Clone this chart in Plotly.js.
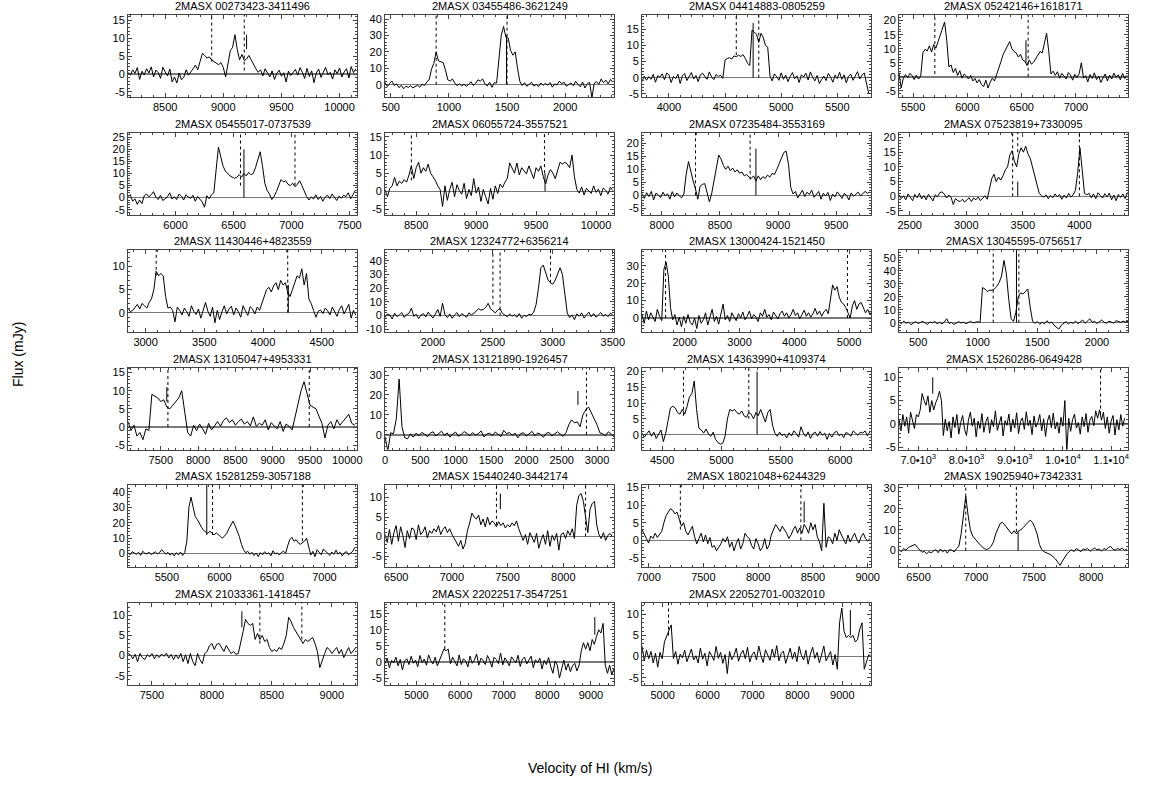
<!DOCTYPE html>
<html>
<head>
<meta charset="utf-8">
<script src="https://cdn.plot.ly/plotly-3.0.1.min.js"></script>
<style>html,body{margin:0;padding:0;background:#fff}#chart{width:1151px;height:797px}</style>
</head>
<body>
<div id="chart"></div>
<script>
const titles = ["2MASX 00273423-3411496","2MASX 03455486-3621249","2MASX 04414883-0805259","2MASX 05242146+1618171",
"2MASX 05455017-0737539","2MASX 06055724-3557521","2MASX 07235484-3553169","2MASX 07523819+7330095",
"2MASX 11430446+4823559","2MASX 12324772+6356214","2MASX 13000424-1521450","2MASX 13045595-0756517",
"2MASX 13105047+4953331","2MASX 13121890-1926457","2MASX 14363990+4109374","2MASX 15260286-0649428",
"2MASX 15281259-3057188","2MASX 15440240-3442174","2MASX 18021048+6244329","2MASX 19025940+7342331",
"2MASX 21033361-1418457","2MASX 22022517-3547251","2MASX 22052701-0032010"];

// spectrum sampling: first channel velocity and channel width (km/s)
const v0s = [8180,450,3760,5370,5590,8240,7830,2405,2850,1600,1220,340,7060,0,4330,6600,5130,6400,6940,6330,7300,4280,4540];
const dvs = [20,20,20,20,20,20,20,20,20,20,40,20,40,40,20,40,20,20,20,20,20,50,50];

const f01 = [0.5,-0.3,1.2,0.2,1.8,-1.5,0.8,-0.2,1.5,0.3,2,-0.8,1.1,0.4,-1.2,1.9,0.6,-0.5,1.4,-2.2,-0.8,-2.5,0.3,-1.6,-0.9,1.2,-0.3,0.8,1.5,2.5,1.2,
3.5,5.8,5.2,4.5,4.8,3.9,3.5,3.0,2.6,3.2,1.8,
-0.8,3.5,6.5,7.5,11,6.8,4.0,5.5,3.8,4.2,5.2,4.0,2.5,1.5,0.5,
1.2,-0.5,1.5,0.3,-0.8,0.9,-1.5,0.2,1.1,-0.6,0.4,-2.2,0.8,-0.4,0.6,1.3,-0.3,1.8,0.5,-1.2,1.6,-0.7,0.9,-2.4,0.3,1.4,-0.9,0.7,1.9,-0.2,0.5,-1.4,1.2,0.1,1.7,-0.8,0.6,1.5,-1.1,2.1,0.4,1.5];
const f02 = [1.5,-1.2,0.8,2.2,-0.5,0.6,-1.8,-0.4,-2.5,-0.9,-1.6,-0.7,-1.9,-1.2,-0.3,-1.5,0.4,-0.6,1.8,
3,9.5,13,20,14.5,14,13.5,9,3,
2.2,3.5,1.0,-0.6,0.5,-0.8,0.3,-1.0,0.2,1.8,-0.5,0.9,3.0,2.2,3.5,0.4,-0.7,1.5,-1.6,1.2,
1,15,30,35.5,29,28.5,21,18,20,10,2,
-0.5,1.2,-1.0,0.3,1.5,-0.8,0.2,-1.2,1.0,-0.4,0.8,-0.3,1.3,-1.5,0.5,-0.2,2.2,0.6,1.5,-0.9,0.4,1.1,-0.6,2.0,0.3,-1.3,1.6,-2.0,0.7,1.4,-8,0.9,1.8,0.2,3.5,1.2,2.8,0.5,3.2,1.5];
const f03 = [-1.2,0.5,-0.8,0.3,-0.5,1.0,-1.4,0.6,0.2,1.2,-0.6,1.5,0.8,-1.5,0.4,-0.3,1.1,-1.8,0.6,1.3,-0.9,0.2,1.6,-0.4,0.7,-1.2,0.9,1.4,0.3,-0.5,1.8,0.2,-0.6,1.0,0.4,0.8,-0.2,
5.5,6.0,6.2,5.8,6.8,6.5,7.0,6.6,7.2,6.0,4.5,3.8,14.8,14.2,13.5,11.0,13.8,12.5,10.0,9.5,0.5,
-1.0,1.2,0.3,-0.8,1.5,-0.5,0.8,-1.2,0.4,1.6,-0.3,0.6,-1.5,0.9,0.2,1.4,-0.7,1.8,0.1,-1.0,0.7,-1.8,-0.6,0.5,-0.9,1.3,0.2,-1.4,0.8,-0.3,1.7,-0.5,0.9,-1.6,0.4,1.1,-0.8,0.6,1.9,-0.4,0.8,1.5,-2.0,-5.0];
const f04 = [1.5,-4,-0.5,0.8,-0.3,1.2,0.5,-1.0,0.6,-0.8,0.3,
8.5,9.8,9.2,11,8.8,11.5,10.2,12.5,15,17,19.5,13,
3.5,4.2,1.5,3.0,0.5,2.2,-0.5,1.0,0.3,-0.8,0.5,-1.5,-0.6,-2.2,-1.0,-2.8,-3.5,-1.2,-4.0,-2.0,-0.5,-1.5,0.8,
2.5,5.5,8.0,9.5,10.5,12.5,10.0,9.0,8.5,7.0,8.0,6.0,5.5,4.0,6.0,4.5,5.2,6.5,8.0,9.0,8.5,12,15.5,9.0,1.0,
2.0,0.5,1.8,-0.5,1.2,0.3,-0.8,1.5,0.6,-1.2,0.9,-0.3,1.1,5.0,-0.5,0.4,-1.8,0.8,-0.6,1.4,-1.0,0.2,-2.0,-0.4,1.0,-1.5,0.6,-0.8,1.3,-0.2,0.7,-1.1,1.2,-0.6,0.5];
const f05 = [0.5,1.2,-1.5,-0.5,-2.8,-1.0,-2.5,0.8,1.5,0.3,1.2,2.5,0.2,-0.8,1.0,-1.2,-0.5,0.3,2.0,-0.6,0.4,-0.8,1.5,0.6,-1.0,1.2,0.2,-0.3,1.0,-1.5,0.5,-0.6,-1.8,-4.0,0.8,-0.5,1.2,2.0,
12,21,17,13,11,10,9,8.5,8,8.5,9.5,8.5,10,9,10.5,9.5,10,12.5,16,19,13,6,3,
1.5,-0.8,0.5,2.5,5.5,7.5,6.5,7,5.5,5,6,4.5,5.5,7,5,2.5,0.5,
-1.0,0.3,-0.6,1.2,-0.8,0.5,-1.5,0.2,1.0,-0.4,1.5,0.3,-1.2,0.6,-0.3,1.0,0.4,2.0,-0.5,1.2,3.0];
const f06 = [0.5,-1.5,0.8,1.5,3.8,1.5,2.8,2.2,3.2,2.5,
4.5,7,3.5,6.5,8,5,6.5,5.5,7.5,5,4,3,1.5,0.5,
-4.2,1.5,-2.5,0.5,2.5,-1.5,1.8,0.2,-0.8,2.2,-2,0.5,-1.2,3.5,-0.5,1.2,-2.8,0.5,-1.5,-3.5,0.8,-2.2,1.5,-0.6,2.0,1.0,2.5,
3.5,7.8,6.5,5,7.8,4.5,6.5,5.5,4.8,7,5,3.5,6.5,5.5,7,4,2,4.5,6,5,3.5,6,8,7.5,8,7.5,6.5,10,4,
0.5,-0.5,1.2,-1.0,0.8,0.2,-0.6,1.5,-0.3,0.6,-1.2,0.9,0.3,-0.8,1.1,0.2];
const f07 = [0.5,-1.2,1.0,-0.5,1.5,-1.8,0.8,0.2,-0.9,1.2,-0.3,0.6,-1.5,1.4,-0.6,0.9,-0.2,-1.0,0.5,
8,13,9,5.5,2.5,-1.5,3.5,4.2,4.5,0.5,-2.5,0.8,
6,12,15.5,14,11.5,10,11.2,9.5,10.5,9,9.8,8.5,9,7.5,8,7,6.5,7.5,5.5,7.5,6,7.2,6.5,7.8,7,8.5,8,10,12,14.5,16.5,17,
12,3,0.5,1.5,-1,0.5,2,-0.5,1.2,0.3,2,-0.8,0.6,1.5,-1.5,0.8,-0.3,1.1,-2,0.4,-0.6,1.3,0.2,-1.2,0.7,0,-1.8,0.9,-0.4,0.5,1.2,-0.2,0.6,1.5,0.8,1.2];
const f08 = [0.5,-0.8,0.2,-1.2,0.8,-0.3,-1.5,0.6,-0.5,1.0,-0.9,0.3,-1.2,0.7,-0.4,-1.6,0.5,-0.2,1.2,1.5,0.8,-0.6,0.4,-0.3,-2.8,-0.8,-1.5,-1.8,-1.0,-2.0,-1.2,-0.5,-1.8,-0.6,-1.2,-0.3,-1.5,-0.8,0.2,-1.0,
2.5,6,7.5,5,6.5,5.5,7,9,10,14,15.5,12,10,14.5,16.5,15,17,14.5,13,10,6,3,1,
0.2,-0.3,0.5,-0.8,0.3,-0.5,0.8,-0.2,0.6,-1.0,0.4,-0.6,1.0,-0.3,0.5,2.0,
8,16.5,9,1,
0.5,1.0,-0.5,0.8,-0.8,1.2,0.3,-0.6,0.9,-0.2,1.1,-1.2,0.4,-1.5,0.6,-0.4,0.8,-0.8,1.3];
const f09 = [1,0.2,0.5,1.2,1.8,0.8,2,1.5,1,2.2,
3,5,9,8,8.5,8,
3.5,1,1.2,0.5,-2,1.2,0.5,-0.5,1,0.2,-0.8,1.5,0.3,-0.4,0.8,-1.2,0.6,2.2,0.3,-0.8,1.2,-2.2,0.5,-1.5,0.2,1.5,-0.3,0.8,1.4,-0.5,1.0,0.2,-1.0,1.5,0.4,-0.6,1.3,0.8,-0.3,1.2,0.5,2,
3.5,5,5.5,4.5,5.8,6.5,5,7,6,6.5,4.5,3.5,5,6.5,8,7.5,9.5,6,8.5,3,2,
0.5,-1,0.3,0.6,-0.2,1.0,0.4,-0.5,1.2,0.2,-0.8,0.7,1.5,-0.3,0.8,1.8,-1.2,0.5,-0.6];
const f10 = [-1.5,1.2,0.5,-2.5,1.8,-0.8,0.6,2.2,-1.2,0.8,1.5,5.5,-0.5,1.0,-2.2,0.3,1.5,-1.0,2.5,0.4,-1.8,1.2,4.5,-0.6,9,0.8,-1.5,1.2,-2.0,0.5,2.2,-0.8,1.5,0.2,-1.2,2.0,0.6,1.5,3.5,
5,4,4.5,6,9,5,3.5,2,4,5,1.5,0.5,
-0.8,1.2,-0.5,0.8,-1.2,1.5,-2.0,0.3,-0.8,1.0,0.4,2.5,8,
20,35,37,32,26,24,23,26,31,35,30,14,2,
-1.5,0.5,-3,1.2,-0.5,2.0,-1.8,0.6,2.5,-0.8,1.5,-1.2,0.8,2.2,-0.4,1.0,-0.8,1.8,0.5];
const f11 = [2,-3,4,-1,3,0.5,-2,5,1,-1.5,
28,32,24,6,
-1,2,-4,0.5,-5,1,-3,2,-2.5,-4,0,-6,1.5,-3,-1,3,-4,0.5,5,-2,1,-3.5,2,8,-1,1.5,-2,3,0.5,-1.5,2.5,0,3.5,-1,1,4,-0.5,2,0.5,-2,3,1,5,0.5,2,-1,3.5,1.5,-0.5,2.5,4,1,3,0,2,5,1.5,3,-0.5,2,4.5,1,3,0.5,2.5,5.5,2,4,1,3.5,5,2.5,
10,19,16,18,12,9,8,6,3,0,
7,10,5,8,9,6,3,5,2,4,3.5];
const f12 = [0.5,-0.8,1.2,-0.5,0.3,-1.5,-0.3,0.8,-0.6,0.2,1.0,-0.4,-1.2,0.6,-0.2,0.9,-0.8,0.3,-1.0,0.5,3,-0.6,0.2,-1.4,-0.5,0.8,-0.3,0.4,-0.8,0.2,1.0,-0.2,0.5,0.8,0.2,
27,26,24,25,25,26,28,31,36,48,38,18,3,1,8,20,23,22,24,26,12,
1,-0.5,0.8,-1.2,0.3,-0.8,1.5,-0.3,0.5,-2,-3.5,-5,-2,-0.5,0.8,-1,0.3,-0.6,1.2,-0.8,0.5,2,-0.5,1.5,3,0.2,1,-0.6,0.8,2,0.3,-0.4,1.1,0.6,-0.3,1.5,0.8,0.2,1.2,0.5,1];
const f13 = [1.5,-1,0.5,-2.5,-1.5,-3.5,-0.5,-1,
9,8.5,8,7,7.5,5.5,5,6,7,8,10,4,
-1.5,-2.5,0.5,-1,0.8,-0.5,-2,1,-0.8,0.3,1.5,0.2,1.8,2.5,1.2,2,0.5,1.5,2.2,0.8,1.5,0.3,2.8,0.2,1,0.5,2,-0.8,1.2,0.3,-0.5,1.5,-1.2,0.8,0.2,-0.8,
3,6,10,12.5,9,6,5.5,5,3,1,
-3,0.5,1.5,-0.5,2,0.5,1.5,2.5,3.5,1,0.5];
const f14 = [-1,-8,1,0.5,8,28,4,-1.5,-2,0.5,-1.2,0.8,
-0.5,1.2,0.3,-1.0,0.8,1.5,-0.6,0.4,1.8,-0.3,0.9,-1.2,0.5,1.3,-0.8,0.2,1.6,0.7,-0.5,1.1,-0.2,0.6,1.9,-1.1,0.4,0.8,-0.4,1.4,0.3,-0.9,2.2,0.5,1.2,-0.3,0.8,-1.5,0.6,1.0,-0.7,0.3,1.7,-0.5,0.9,0.2,-1.3,0.7,1.2,-0.6,0.5,1.5,0.3,-0.8,1.0,
5,7.5,6,6.5,4,10,12.5,14,11,8.5,5,
1,0.5,-0.5,1.5,0.2,-1];
const f15 = [0.5,-0.8,0.3,1.2,-0.5,0.8,-1.2,0.2,1.5,-2.2,
0.5,4.5,8.5,9,8.5,7,6.5,8,6.5,9,12,13,17,8,
2,1.5,0.5,1.8,0.2,-0.5,0.8,-1.5,-2.5,-3,-2.8,-0.5,
5,8,7.5,8,7,6.5,7.5,6,5.5,7,6.5,5,7,6,8,6,4,7,8,3,
0.5,-0.5,0.8,-0.3,0.2,-1.0,0.6,-0.4,1.2,0.3,-0.8,2.5,0.5,-0.6,0.9,-1.2,0.3,0.8,-0.5,1.0,-0.2,0.5,-1.5,0.4,-0.8,0.6,1.1,-0.3,0.2,-0.9,0.7,0.3,-0.5,1.2,0.4,-0.2,0.8,0.5,1.2,-0.4,1.0];
const f16 = [1,-1.5,2,-0.5,1.5,-2,2.5,0.5,-1,2,1.5,3,
6.5,5,4,6,2.5,5,3,4.5,5.5,7,5,
-2.5,1.0,-1.5,0.5,-3.0,1.5,-0.8,2.0,-2.2,0.3,
1.8,-1.2,-2.5,0.8,2.5,-0.5,1.2,-2.8,0.6,-1.0,
2.2,-1.8,0.4,1.5,-2.0,0.9,-0.6,2.8,-1.4,0.2,
1.6,-2.6,0.7,-0.3,2.1,-1.7,1.0,-0.9,2.4,-2.1,
0.5,1.3,-1.2,2.6,-0.4,0.8,-2.3,1.7,-0.7,0.3,
2.0,-1.5,1.1,-2.7,0.6,1.9,-0.8,2.3,-1.1,0.4,
-2.0,1.4,-0.5,5.0,-6.0,1.2,-1.6,0.9,2.1,-0.9,
0.3,-2.2,1.5,-0.6,2.2,-1.8,0.8,1.6,-0.4,2.8,
1.2,3.0,0.8,2.5,-1.0,1.5,-2.0,0.6,1.8,-2.4,
0.9,-1.3,2.0,-0.5,1.2];
const f17 = [0.5,-0.8,1.2,0.3,-0.5,0.8,-1.2,1.5,0.2,-0.3,0.9,-0.6,0.4,1.1,-0.2,0.6,2.5,1.2,-0.4,0.8,-1.0,0.3,-1.5,0.5,-0.8,1.0,-1.2,0.6,
8,30,36.5,30,24,22,19,17,15,14,13,14.5,13,12,13.5,12,11,10,11.5,13,16,19,21,18,15,11,6,2.5,
0.5,1.5,-0.5,0.8,-1.2,0.3,-2.0,0.6,-0.8,1.2,-0.3,0.5,-1.5,1.8,-0.2,0.4,-0.9,0.7,1.5,0.2,
5,9,10.5,8,9,7,6,7,8,10,4,
-1,1.5,-2,2.5,0.5,-0.8,3,1.5,0.2,-1.2,1.0,-0.5,2.2,-0.3,0.8,-1.5,0.5,1.2,-0.8,0.4,1.5,4.0];
const f18 = [0.5,-1.5,1.8,-2,1,2.8,-1.2,2.5,0.3,-2.8,1.5,-0.5,2.2,1.8,-0.8,3,0.5,1.2,2.5,-0.3,1.5,0.8,2,1.2,2.8,0.5,1.8,2.5,1,2,0.6,-0.5,-1.5,-2.5,-1,-3.2,-1.8,
1.5,3.5,6,5,4.5,5.5,3,4.5,2.5,5,3,4,3.5,2.5,3.8,2.8,3.5,2.2,3,2.5,3.5,2.8,4,2,0.5,
-1,0.5,-2,1,-0.5,-1.5,0.8,-3,-1,0.5,-2,1.5,-2.5,0.3,-1,0.8,-3.5,0.5,1,-0.5,1.5,0.3,2,-0.5,
8,10.5,11,9,5,1,7,8.5,9,3,
0.5,-0.5,1,-1,0.3,0.8,0];
const f19 = [3,1.5,0.5,-0.8,1.2,0.5,2,0.8,1.5,2.5,
5,7,8,9,8.5,7.5,8,6,4,
5,2.5,1.5,3,4,1,-1,0.5,2,-0.5,1.5,-1,0.8,-2,-1.5,-3,-2,-1,0.5,-0.5,1,-2,-0.5,-3,-1,0.5,-2.5,-1,2,1,0.5,-1.5,-2.5,0.5,-1,-3,-2,0.5,-2.5,-1.5,
1.5,3,4.5,3.5,2.5,4,3,2,0.5,1.5,3,4,2,3.5,2,4.5,3.5,
2,5,3,4.5,1,-0.5,-3,10.5,
-2,1,0.5,-1,2,0,3,1.5,0,-1,1.5,-0.5,0.8,2,0.3,-0.8,1,2,0.5,-0.3,0.5];
const f20 = [0.5,-0.5,1,0.2,1.5,2,2.5,3,1.5,0.5,-0.8,-0.3,-1.5,-0.5,-1,-0.2,0.5,-1,0.8,-0.5,0.3,-1.2,0.5,0.2,-0.6,1,2,
8,18,26,17,10,7,5.5,4,3,2,1,
0.5,1,2,4,8,11,13,13.5,12,10.5,9,8,9.5,8,9.5,10,11,12.5,13.5,14.5,13.5,11,8,
3,0.5,-0.5,-1,-1.5,-2,-3,-4,-5.5,-7,-5,-3,-1.5,-0.5,0.5,-0.5,1,0.3,-0.5,0.8,0.5,1,-0.3,0.6,1.2,0.4,0.8,-0.2,1,0.5,1.5,2,0.6,0.3,1,0.5,1.2,0.2,0.8];
const f21 = [0.5,0.2,-0.8,0.3,-1.5,0.5,-0.5,-1,0.2,-0.3,0.5,-0.8,0.2,-0.5,0.4,-0.2,0.6,-0.6,0.3,-1,0.2,-0.8,0.5,-1.5,0.2,
-2,0.5,-1.5,-2.5,0.5,-1,-2,0.5,1,2.5,3,1.5,2.8,3,2,1,2.5,1.5,0.5,1,0.3,0.5,
3,6,9,8,7.5,8,4,5.5,4,5,3.5,4,2,
1,1.5,1,2,1.5,3,5,9.5,8.5,7,6,5,4,3,4,3.5,4,4.5,3,1,-3,
-1,0.5,2,1.5,0.5,1.2,2,0.5,1.5,-0.5,1,2,0.5,1.2,2];
const f22 = [-0.5,1.2,-1.8,0.5,-0.3,1.5,-1.2,0.8,-2.5,0.3,1.0,-0.8,1.8,-0.4,0.6,-1.5,2.0,-0.2,0.9,-1.0,2.2,0.4,-0.6,1.5,-1.2,0.5,1.8,
4,3.5,4,
-0.5,1.5,0.2,-1.2,2.2,-0.8,1.0,0.3,-1.5,1.8,-0.4,0.6,2.5,-1.0,1.2,0.4,-0.8,2.0,0.5,-1.6,1.5,0.8,-0.5,2.8,-0.9,1.3,0.2,-1.2,1.6,0.6,-0.3,2.1,-1.4,0.9,1.5,-0.6,0.4,1.8,-1.8,0.7,-0.2,1.2,-2.2,0.5,-0.8,1.4,-1.5,-3.5,0.3,-1.0,-5.0,-1.8,0.6,-2.5,-0.5,-3.0,-1.2,-0.4,-2.8,-1.0,
3.5,6,4,6,3.5,7,5.5,8,10,9,12,
-1,-3.5,-1,-4,-2];
const f23 = [2.5,-1,1.5,-0.5,1.2,-1.5,0.8,-2.5,1,-0.5,
3.5,5,6,7.5,
-0.5,1.2,-1.8,0.6,-0.3,1.5,-1.2,0.4,1.8,-0.8,0.2,-1.5,2.0,-0.6,0.8,-2.2,1.2,0.3,-0.9,2.4,-0.4,1.0,-1.6,0.5,-4.0,1.2,-0.7,0.3,2.0,-1.1,0.6,1.5,-0.5,2.2,-1.3,0.4,1.1,-0.8,2.5,0.2,-1.4,1.6,0.5,-0.9,1.8,-0.2,2.6,-1.0,0.7,1.3,-1.6,0.4,2.0,-0.6,1.1,-1.2,2.4,0.3,-0.8,1.5,-1.8,0.6,2.2,-0.4,1.0,-1.5,0.8,2.5,-1.0,0.3,1.2,-2.0,0.5,-3.0,
8,11.5,6,4.5,5,4.5,5,3.5,4,6.5,8,
-3,-1,0.5,0];
const fluxes = [f01,f02,f03,f04,f05,f06,f07,f08,f09,f10,f11,f12,f13,f14,f15,f16,f17,f18,f19,f20,f21,f22,f23];

// optical / catalogue velocity markers: dashed [velocity, lower end], solid [velocity, y0, y1]
const dashMarks = [[[8900,3.5],[9180,1]],[[890,0],[1500,0]],[[4600,7],[4800,0]],[[5700,1],[6560,0]],
[[6560,5],[7030,5]],[[8460,3],[9570,5]],[[8290,0],[8760,6]],[[3410,0],[3455,15],[4000,0]],
[[3090,8],[4210,0]],[[2500,8],[2560,0],[2980,24]],[[1650,0],[4970,0]],[[1130,0],[1345,0]],
[[7595,0],[9490,0]],[[2850,0]],[[4680,6],[5230,5]],[[10780,2]],
[[5935,12],[6790,8]],[[7400,3],[8200,0]],[[7290,3],[8390,0]],[[6910,0],[7350,9]],
[[8400,3],[8750,4]],[[5650,4]],[[5130,5]]];
const solidMarks = [[[9200,7,11]],[[1495,0,30]],[[4750,0,17]],[[6540,5,13]],
[[6590,0,20]],[[9575,0,5]],[[8810,0,18]],[[3455,0,5]],
[[4215,0,6]],[],[],[[1325,0,56]],
[[7580,7,11]],[[2730,15,22]],[[5300,0,20]],[[7300,6.5,10]],
[[5880,12,45]],[[7435,7,11]],[[8420,5,11]],[[7365,0,9]],
[[8250,7,11]],[[9090,8.5,14]],[[9180,5,11]]];

const xRanges = [[8180,10150],[450,2420],[3760,5800],[5370,7480],[5590,7565],[8240,10150],[7830,9800],[2405,4430],
[2850,4800],[1600,3510],[1220,5400],[340,2260],[7060,10130],[0,3240],[4330,6260],[6600,11350],
[5130,7310],[6400,8455],[6940,9030],[6330,8320],[7300,9210],[4280,9530],[4540,9640]];
const yRanges = [[-6.4,16.5],[-7.5,42.5],[-6,19.5],[-7.2,22],[-7,27],[-6.4,16.2],[-7.4,24.2],[-6.2,21.7],
[-4.2,13.6],[-12,48],[-8,39],[-7.2,56],[-6.2,16.4],[-7.4,33.8],[-4.7,21.3],[-5.5,12.1],
[-8.7,44.4],[-7.8,13.2],[-7.6,15.7],[-7.8,31.3],[-7.2,13.2],[-7,18.5],[-6.6,12.8]];
const xSteps = [500,500,500,500,500,500,500,500,500,500,1000,500,500,500,500,1000,500,500,500,500,500,1000,1000];
const ySteps = [5,10,5,5,5,5,5,5,5,10,10,10,5,10,5,5,10,5,5,10,5,5,5];
const sciTickVals = [7000,8000,9000,10000,11000];
const sciTickText = ["7.0•10<sup>3</sup>","8.0•10<sup>3</sup>","9.0•10<sup>3</sup>","1.0•10<sup>4</sup>","1.1•10<sup>4</sup>"];

const W = 1151, H = 797;
const colLeft = [128, 385, 642, 899], boxW = 229, boxH = 82, top0 = 15, rowPitch = 117.5;
const FONT = "Arial, 'Liberation Sans', Helvetica, sans-serif";

function ticksFor(r, step) {
  const vals = [];
  for (let v = Math.ceil(r[0] / step) * step; v <= r[1] + 1e-9; v += step) vals.push(v);
  return vals;
}

const traces = [], shapes = [], annotations = [];
const layout = {width: W, height: H, margin: {l: 0, r: 0, t: 0, b: 0}, showlegend: false,
  paper_bgcolor: "white", plot_bgcolor: "white", font: {family: FONT, color: "black", size: 11}};

titles.forEach((t, i) => {
  const n = i + 1, sfx = n === 1 ? "" : String(n);
  const row = Math.floor(i / 4), col = i % 4;
  const left = colLeft[col], top = top0 + row * rowPitch;
  const xd = [left / W, (left + boxW) / W];
  const yd = [1 - (top + boxH) / H, 1 - top / H];
  const fl = fluxes[i];
  const xs = fl.map((_, k) => v0s[i] + k * dvs[i]);
  traces.push({x: xs, y: fl, xaxis: "x" + sfx, yaxis: "y" + sfx, type: "scatter", mode: "lines",
    line: {color: "black", width: 1}, hoverinfo: "skip"});
  let xtv, xtt;
  if (i === 15) { xtv = sciTickVals; xtt = sciTickText; }
  else { xtv = ticksFor(xRanges[i], xSteps[i]); xtt = xtv.map(v => String(v)); }
  const ytv = ticksFor(yRanges[i], ySteps[i]);
  const ytt = ytv.map(v => String(v));
  const common = {showline: true, mirror: "ticks", linecolor: "#444", linewidth: 1, ticks: "inside",
    ticklen: 4, tickwidth: 1, tickcolor: "#444", showgrid: false, tickmode: "array",
    tickfont: {family: FONT, size: 11, color: "black"}};
  layout["xaxis" + sfx] = Object.assign({}, common, {domain: xd, range: xRanges[i], anchor: "y" + sfx,
    tickvals: xtv, ticktext: xtt, zeroline: false,
    minor: {tickmode: "linear", tick0: 0, dtick: xSteps[i] / 5, ticks: "inside", ticklen: 2, tickcolor: "#444", showgrid: false}});
  layout["yaxis" + sfx] = Object.assign({}, common, {domain: yd, range: yRanges[i], anchor: "x" + sfx,
    tickvals: ytv, ticktext: ytt, zeroline: true, zerolinecolor: "#7a7a7a", zerolinewidth: 1.5,
    minor: {tickmode: "linear", tick0: 0, dtick: ySteps[i] / 5, ticks: "inside", ticklen: 2, tickcolor: "#444", showgrid: false}});
  dashMarks[i].forEach(m => shapes.push({type: "line", xref: "x" + sfx, yref: "y" + sfx,
    x0: m[0], x1: m[0], y0: m[1], y1: yRanges[i][1], line: {color: "black", width: 1, dash: "3px,3px"}}));
  solidMarks[i].forEach(m => shapes.push({type: "line", xref: "x" + sfx, yref: "y" + sfx,
    x0: m[0], x1: m[0], y0: m[1], y1: m[2], line: {color: "black", width: 1}}));
  annotations.push({text: t, xref: "paper", yref: "paper", x: (left + boxW / 2) / W, y: 1 - (top - 1) / H,
    xanchor: "center", yanchor: "bottom", showarrow: false, font: {family: FONT, size: 11, color: "black"}});
});

annotations.push({text: "Flux (mJy)", xref: "paper", yref: "paper", x: 18 / W, y: 1 - 355 / H, textangle: -90,
  xanchor: "center", yanchor: "middle", showarrow: false, font: {family: FONT, size: 14, color: "black"}});
annotations.push({text: "Velocity of HI (km/s)", xref: "paper", yref: "paper", x: 590 / W, y: 1 - 768 / H,
  xanchor: "center", yanchor: "middle", showarrow: false, font: {family: FONT, size: 14, color: "black"}});

layout.shapes = shapes;
layout.annotations = annotations;
Plotly.newPlot("chart", traces, layout, {staticPlot: true, displayModeBar: false});
</script>
</body>
</html>
